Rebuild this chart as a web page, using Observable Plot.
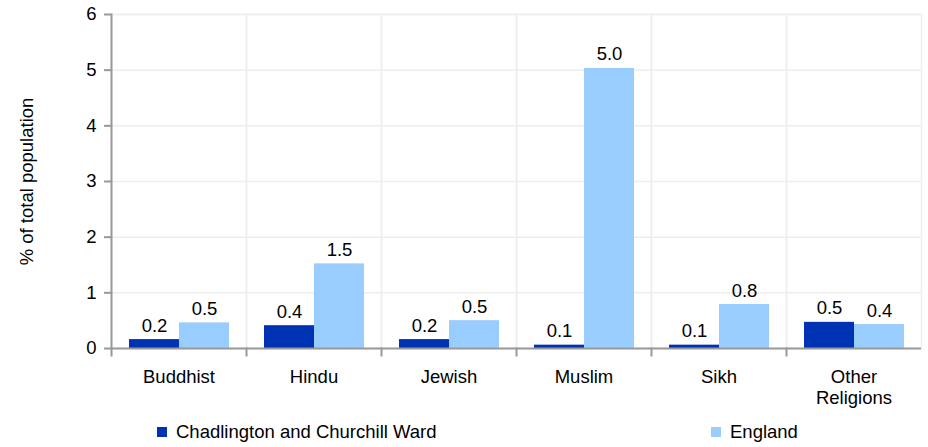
<!DOCTYPE html>
<html>
<head>
<meta charset="utf-8">
<script src="https://cdn.jsdelivr.net/npm/d3@7"></script>
<script src="https://cdn.jsdelivr.net/npm/@observablehq/plot@0.6"></script>
<style>
  html, body { margin: 0; padding: 0; background: #fff; }
  body { width: 928px; font-family: "Liberation Sans", Arial, sans-serif; }
  #legend { position: relative; height: 37px; font-size: 18.5px; color: #000; }
  .item { position: absolute; top: 7px; height: 30px; display: flex; align-items: center; }
  .sw { width: 10px; height: 10px; margin-right: 9px; }
</style>
</head>
<body>
<div id="chart"></div>
<div id="legend"></div>
<script>
const religions = ["Buddhist", "Hindu", "Jewish", "Muslim", "Sikh", "Other Religions"];
const series = ["Chadlington and Churchill Ward", "England"];
const chadlington = [0.16, 0.41, 0.16, 0.06, 0.06, 0.47];
const england = [0.46, 1.52, 0.5, 5.03, 0.79, 0.43];
const yTicks = [0, 1, 2, 3, 4, 5, 6];
const colors = ["#0033b3", "#99ccff"];

const data = [];
religions.forEach((r, i) => {
  data.push({religion: r, series: series[0], value: chadlington[i]});
  data.push({religion: r, series: series[1], value: england[i]});
});

const W = 928, H = 410, mt = 14, mb = 62, ml = 110, mr = 6;
const innerH = H - mt - mb;

const chart = Plot.plot({
  width: W, height: H,
  marginTop: mt, marginBottom: mb, marginLeft: ml, marginRight: mr,
  style: {fontSize: "18.5px", fontFamily: "'Liberation Sans', Arial, sans-serif", color: "#000", background: "#fff"},
  fx: {domain: religions, padding: 0, label: null},
  x: {domain: series, paddingInner: 0, paddingOuter: 0.34, axis: null},
  y: {domain: [0, 6], label: null},
  color: {domain: series, range: colors},
  marks: [
    Plot.gridY(yTicks, {stroke: "#eeeeee", strokeOpacity: 1, strokeWidth: 1.5}),
    Plot.frame({stroke: "#eeeeee", strokeWidth: 1.5}),
    Plot.barY(data, {fx: "religion", x: "series", y: "value", fill: "series"}),
    Plot.text(data, {fx: "religion", x: "series", y: "value", text: d => d.value.toFixed(1), lineAnchor: "bottom", dy: -8, fill: "#000"}),
    Plot.ruleY([0], {stroke: "#999", strokeWidth: 2}),
    Plot.frame({anchor: "left", stroke: "#999", strokeWidth: 2, insetTop: innerH, insetBottom: -7}),
    Plot.frame({anchor: "left", stroke: "#999", strokeWidth: 2, fx: () => religions[0]}),
    Plot.axisY(yTicks, {anchor: "left", tickSize: 7, tickPadding: 8, stroke: "#999", fill: "#000", strokeWidth: 2,
      tickFormat: d => String(d),
      label: "% of total population", labelArrow: "none", labelAnchor: "center", labelOffset: 92}),
    Plot.axisFx({anchor: "bottom", tickSize: 0, tickPadding: 19, lineHeight: 1.15,
      tickFormat: d => d === "Other Religions" ? "Other\nReligions" : d, fill: "#000"})
  ]
});
document.getElementById("chart").appendChild(chart);

const legend = document.getElementById("legend");
const lefts = [157, 711];
series.forEach((s, i) => {
  const it = document.createElement("div");
  it.className = "item";
  it.style.left = lefts[i] + "px";
  const sw = document.createElement("span");
  sw.className = "sw";
  sw.style.background = colors[i];
  const tx = document.createElement("span");
  tx.textContent = s;
  it.appendChild(sw); it.appendChild(tx);
  legend.appendChild(it);
});
</script>
</body>
</html>
